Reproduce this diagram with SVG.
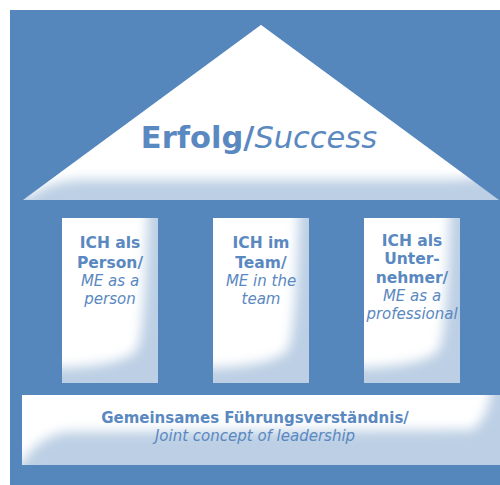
<svg xmlns="http://www.w3.org/2000/svg" xmlns:xlink="http://www.w3.org/1999/xlink" width="500" height="485" viewBox="0 0 500 485">
<style>
.b{font-family:"DejaVu Sans",Verdana,sans-serif;font-weight:bold;fill:#5a88c0;text-anchor:middle}
.i{font-family:"DejaVu Sans",Verdana,sans-serif;font-style:italic;fill:#5a88c0;text-anchor:middle}
.lt{fill:#bccfe4}
</style>
<defs>
<filter id="blur" x="-50%" y="-50%" width="200%" height="200%"><feGaussianBlur stdDeviation="6"/></filter>
<clipPath id="cpPillar"><rect x="0" y="0" width="96" height="165"/></clipPath>
<clipPath id="cpRoof"><polygon points="23,200 261,25 499,200"/></clipPath>
<clipPath id="cpBase"><rect x="22" y="395" width="478" height="70"/></clipPath>
<g id="pillarBody">
<rect class="lt" x="0" y="0" width="96" height="165"/>
<path clip-path="url(#cpPillar)" d="M-20 -20 H86 Q84 100 76 130 Q64 150 -20 150 Z" fill="#fff" filter="url(#blur)"/>
</g>
</defs>
<rect x="10" y="10" width="490" height="475" fill="#5587bd"/>
<g id="roof">
<polygon class="lt" points="23,200 261,25 499,200"/>
<g clip-path="url(#cpRoof)"><path d="M-20 0 H520 V168 Q480 181 440 180 L80 180 Q45 182 25 200 Z" fill="#fff" filter="url(#blur)"/></g>
<text x="259" y="148" font-size="30.5"><tspan class="b">Erfolg/</tspan><tspan class="i">Success</tspan></text>
</g>
<g id="pillar1" transform="translate(62,218)">
<use xlink:href="#pillarBody"/>
<text class="b" x="48" y="30" font-size="15.5">ICH als</text>
<text class="b" x="48" y="50" font-size="15.5">Person/</text>
<text class="i" x="48" y="68" font-size="15">ME as a</text>
<text class="i" x="48" y="86" font-size="15">person</text>
</g>
<g id="pillar2" transform="translate(213,218)">
<use xlink:href="#pillarBody"/>
<text class="b" x="48" y="30" font-size="15.5">ICH im</text>
<text class="b" x="48" y="50" font-size="15.5">Team/</text>
<text class="i" x="48" y="68" font-size="15">ME in the</text>
<text class="i" x="48" y="86" font-size="15">team</text>
</g>
<g id="pillar3" transform="translate(364,218)">
<use xlink:href="#pillarBody"/>
<text class="b" x="48" y="28" font-size="15.5">ICH als</text>
<text class="b" x="48" y="46" font-size="15.5">Unter-</text>
<text class="b" x="48" y="65" font-size="15.5">nehmer/</text>
<text class="i" x="48" y="83" font-size="15">ME as a</text>
<text class="i" x="48" y="101" font-size="15">professional</text>
</g>
<g id="foundation">
<rect class="lt" x="22" y="395" width="478" height="70"/>
<g clip-path="url(#cpBase)"><path d="M0 380 H492 Q490 418 472 430 L70 432 Q35 434 15 475 Z" fill="#fff" filter="url(#blur)"/></g>
<text class="b" x="255" y="423" font-size="15">Gemeinsames Führungsverständnis/</text>
<text class="i" x="255" y="441" font-size="15">Joint concept of leadership</text>
</g>
<g id="connectors"/>
</svg>
